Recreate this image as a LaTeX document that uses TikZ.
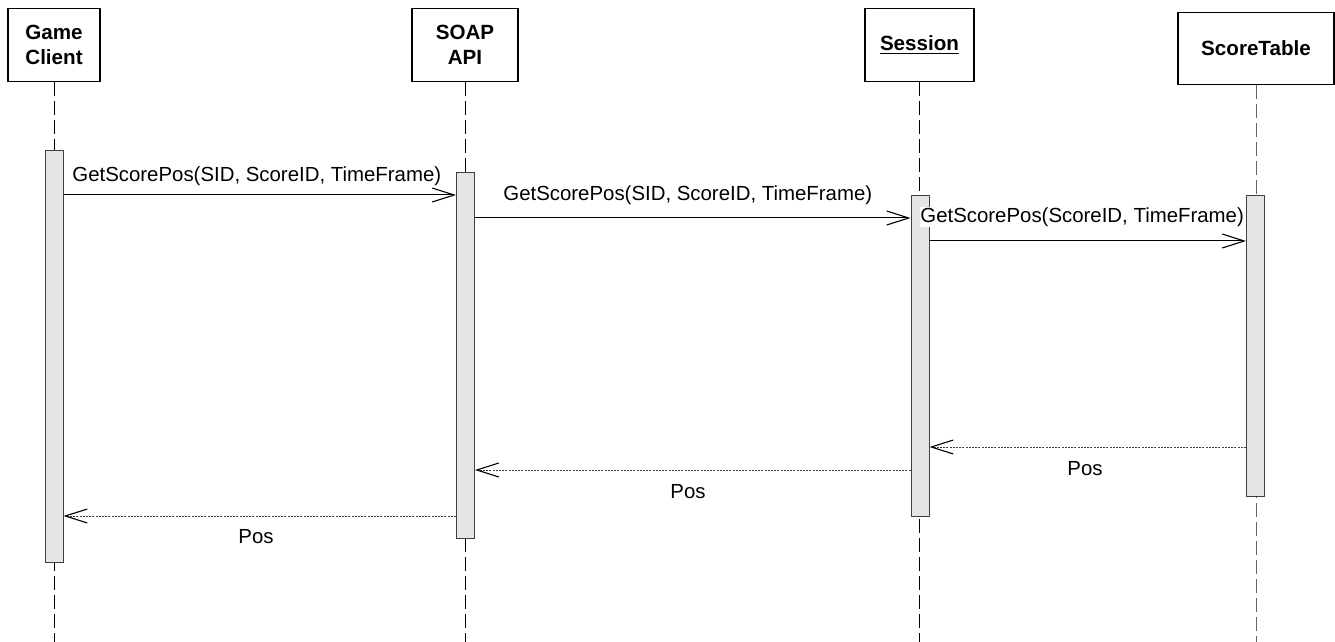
\documentclass[tikz,border=0pt]{standalone}
\usepackage{fontspec}
\setmainfont{Liberation Sans}
\usetikzlibrary{arrows.meta}
\tikzset{
  headbox/.style={draw,line width=0.6pt,fill=white,align=center,inner sep=0pt,anchor=north,
    font=\fontsize{10.3}{12.5}\selectfont\bfseries},
  actbar/.style={draw=black!75,fill=black!10,line width=0.5pt,minimum width=9pt,inner sep=0pt,anchor=north},
  lifeline/.style={dash pattern=on 7pt off 2.5pt,line width=0.5pt},
  call/.style={line width=0.5pt,-{Straight Barb[length=11pt,width=7pt,line width=0.55pt]}},
  reply/.style={black!75,line width=0.5pt,dash pattern=on 1pt off 0.6pt,
    -{Straight Barb[length=11pt,width=7pt,line width=0.55pt,black]}},
  msg/.style={inner sep=0pt,anchor=west},
  back/.style={inner sep=0pt}
}
\begin{document}
\begin{tikzpicture}[x=0.5pt,y=-0.5pt,font=\fontsize{10.2}{12}\selectfont]
  \useasboundingbox (0,0) rectangle (1335,642);
  % heads
  \node[headbox,minimum width=46pt,minimum height=36.5pt] (client) at (54,8) {Game\\Client};
  \node[headbox,minimum width=53pt,minimum height=36.5pt] (soap) at (465,8) {SOAP\\API};
  \node[headbox,minimum width=54.5pt,minimum height=36.5pt] (session) at (919.5,8) {\underline{Session}};
  \node[headbox,minimum width=78pt,minimum height=36pt] (table) at (1256,12) {ScoreTable};
  % lifelines
  \draw[lifeline] (client.south) -- (client.south |- 0,642);
  \draw[lifeline] (soap.south) -- (soap.south |- 0,642);
  \draw[lifeline] (session.south) -- (session.south |- 0,642);
  \draw[lifeline,black!60] (table.south) -- (table.south |- 0,642);
  % activation bars
  \node[actbar,minimum height=206pt] (clientbar) at (54,150) {};
  \node[actbar,minimum height=183pt] (soapbar) at (465.5,172) {};
  \node[actbar,minimum height=160.5pt] (sessionbar) at (920,195) {};
  \node[actbar,minimum height=150.5pt] (tablebar) at (1255.5,195) {};
  % calls
  \draw[call] (clientbar.east |- 0,195) -- (soapbar.west |- 0,195);
  \node[msg] (call1) at (72,176) {GetScorePos(SID, ScoreID, TimeFrame)};
  \draw[call] (soapbar.east |- 0,218) -- (sessionbar.west |- 0,218);
  \node[msg] (call2) at (503,195) {GetScorePos(SID, ScoreID, TimeFrame)};
  \draw[call] (sessionbar.east |- 0,241) -- (tablebar.west |- 0,241);
  \node[msg,fill=white] (call3) at (920,217) {GetScorePos(ScoreID, TimeFrame)};
  % replies
  \draw[reply] (tablebar.west |- 0,447) -- (sessionbar.east |- 0,447);
  \node[back] (ret1) at (1085,469) {Pos};
  \draw[reply] (sessionbar.west |- 0,470) -- (soapbar.east |- 0,470);
  \node[back] (ret2) at (688,492) {Pos};
  \draw[reply] (soapbar.west |- 0,516) -- (clientbar.east |- 0,516);
  \node[back] (ret3) at (256,537) {Pos};
\end{tikzpicture}
\end{document}
